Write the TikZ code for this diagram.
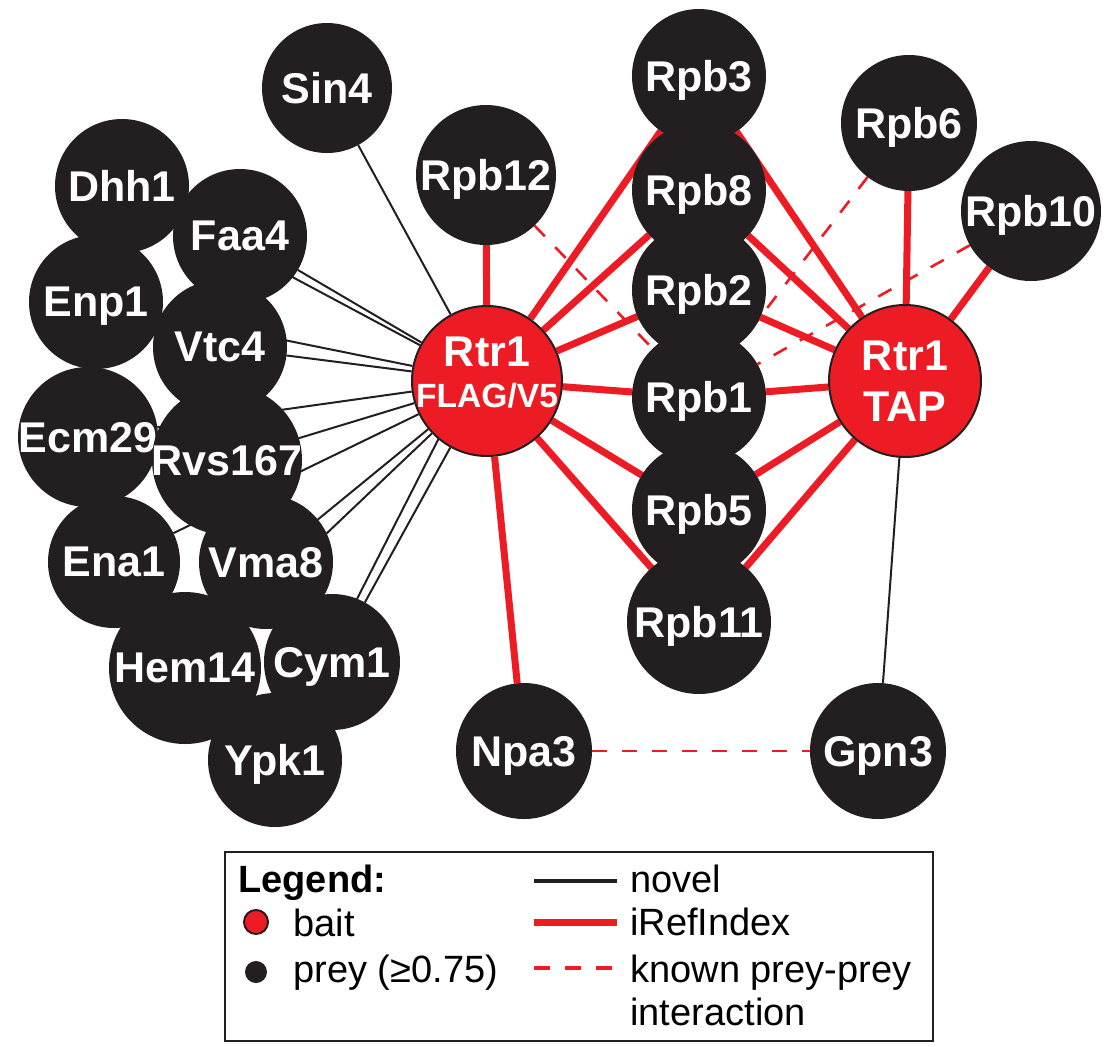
\documentclass[tikz,border=0pt]{standalone}
\usepackage{fontspec}
\setmainfont{Liberation Sans}
\usetikzlibrary{backgrounds}
\definecolor{baitred}{HTML}{ED1C24}
\definecolor{preyblack}{HTML}{231F20}

\tikzset{
  prey/.style={circle, fill=preyblack, inner sep=-6pt, outer sep=0pt, minimum size=#1pt,
    text=white, text depth=0pt, font=\bfseries\fontsize{21.5}{24}\selectfont},
  bait/.style={circle, fill=baitred, draw=preyblack, line width=1pt, inner sep=-6pt, minimum size=#1pt,
    text=white, align=center, font=\bfseries\fontsize{21.5}{25.5}\selectfont},
  novel/.style={preyblack, line width=1pt},
  iref/.style={baitred, line width=3.5pt},
  known/.style={baitred, line width=1.3pt, dash pattern=on 7.5pt off 7.5pt},
  legtext/.style={anchor=base west, inner sep=0pt, font=\fontsize{19}{22}\selectfont},
}

\begin{document}
\begin{tikzpicture}[x=0.5pt,y=-0.5pt]
    \useasboundingbox (0,0) rectangle (1110,1046);

    % baits
    \node[bait=75] (flag) at (487,381) {Rtr1\\[-5pt]{\fontsize{16.8}{18}\selectfont FLAG/V5\rule[-9pt]{0pt}{9pt}}};
    \node[bait=76] (tap) at (905,381) {Rtr1\\TAP};

    % polymerase column and the rest on the right
    \node[prey=65] (sin4) at (327,88) {Sin4};
    \node[prey=70] (rpb12) at (486,175) {Rpb12};
    \node[prey=67] (rpb3) at (699,76) {Rpb3};
    \node[prey=67] (rpb8) at (699,190) {Rpb8};
    \node[prey=67] (rpb2) at (699,290) {Rpb2};
    \node[prey=67] (rpb1) at (699,397) {Rpb1};
    \node[prey=67] (rpb5) at (699,510) {Rpb5};
    \node[prey=72] (rpb11) at (699,622) {Rpb11};
    \node[prey=68] (rpb6) at (909,123) {Rpb6};
    \node[prey=70] (rpb10) at (1031,211) {Rpb10};
    \node[prey=68] (npa3) at (524,751) {Npa3};
    \node[prey=68] (gpn3) at (878,751) {Gpn3};

    % left cluster
    \node[prey=67] (dhh1) at (122,186) {Dhh1};
    \node[prey=67] (faa4) at (240,236) {Faa4};
    \node[prey=67] (enp1) at (96,302) {Enp1};
    \node[prey=67] (vtc4) at (220,347) {Vtc4};
    \node[prey=70] (ecm29) at (88,437) {Ecm29};
    \node[prey=75] (rvs167) at (227,460) {Rvs167};
    \node[prey=66] (ena1) at (114,562) {Ena1};
    \node[prey=67] (vma8) at (266,562) {Vma8};
    \node[prey=76] (hem14) at (185,668) {Hem14};
    \node[prey=68] (cym1) at (332,662) {Cym1};
    \node[prey=67] (ypk1) at (275,760) {Ypk1};

    \begin{scope}[on background layer]
    \draw[novel] (flag)--(sin4);
    \draw[novel] (flag)--(dhh1);
    \draw[novel] (flag)--(faa4);
    \draw[novel] (flag)--(enp1);
    \draw[novel] (flag)--(vtc4);
    \draw[novel] (flag)--(ecm29);
    \draw[novel] (flag)--(rvs167);
    \draw[novel] (flag)--(ena1);
    \draw[novel] (flag)--(vma8);
    \draw[novel] (flag)--(hem14);
    \draw[novel] (flag)--(cym1);
    \draw[novel] ([xshift=-9.5pt]flag.center)--(ypk1);
    \draw[novel] (tap)--(gpn3);

    \draw[iref] (flag)--(rpb12);
    \draw[iref] (flag)--(rpb3);
    \draw[iref] (flag)--(rpb8);
    \draw[iref] (flag)--(rpb2);
    \draw[iref] (flag)--(rpb1);
    \draw[iref] (flag)--(rpb5);
    \draw[iref] (flag)--(rpb11);
    \draw[iref] (flag)--(npa3);
    \draw[iref] (tap)--(rpb3);
    \draw[iref] (tap)--(rpb8);
    \draw[iref] (tap)--(rpb2);
    \draw[iref] (tap)--(rpb1);
    \draw[iref] (tap)--(rpb5);
    \draw[iref] (tap)--(rpb11);
    \draw[iref] (tap)--(rpb6);
    \draw[iref] (tap)--(rpb10);

    \draw[known] (rpb12)--(rpb1);
    \draw[known] (rpb6)--(rpb1);
    \draw[known] (rpb10)--(rpb1);
    \draw[known] (npa3)--(gpn3);
    \end{scope}

    % legend
    \draw[preyblack, line width=1pt] (225,852) rectangle (933,1041);
    \node[legtext, font=\bfseries\fontsize{19}{22}\selectfont] (legtitle) at (238,892) {Legend:};
    \node[circle, fill=baitred, draw=preyblack, line width=1pt, minimum size=12pt, inner sep=0pt] (legbait) at (256,922) {};
    \node[legtext] (legbaittext) at (293,936) {bait};
    \node[circle, fill=preyblack, minimum size=11pt, inner sep=0pt] (legprey) at (256,972) {};
    \node[legtext] (legpreytext) at (293,982) {prey (≥0.75)};

    \coordinate (nov-a) at (534,881);
    \coordinate (nov-b) at (617,881);
    \coordinate (iref-a) at (534,922);
    \coordinate (iref-b) at (617,922);
    \coordinate (known-a) at (534,968);
    \coordinate (known-b) at (617,968);
    \draw[novel, line width=2pt] (nov-a)--(nov-b);
    \draw[iref] (iref-a)--(iref-b);
    \draw[known, line width=2pt, dash pattern=on 8pt off 7.5pt] (known-a)--(known-b);
    \node[legtext] (legnovel) at (630,892) {novel};
    \node[legtext] (legiref) at (630,935) {iRefIndex};
    \node[legtext] (legknown) at (630,982) {known prey-prey};
    \node[legtext] (leginter) at (630,1025) {interaction};
\end{tikzpicture}
\end{document}
